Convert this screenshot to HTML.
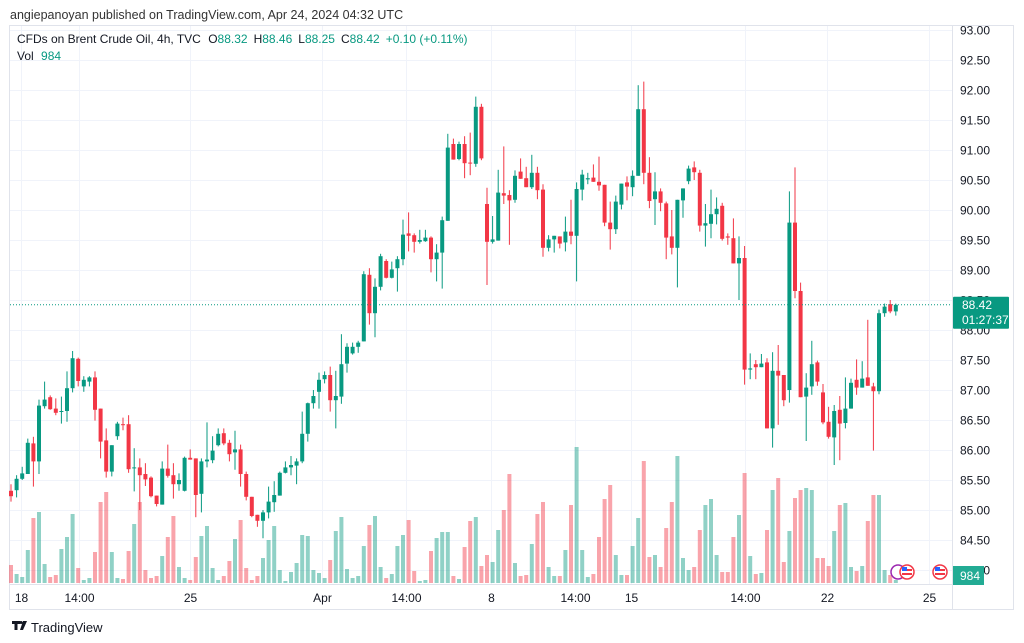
<!DOCTYPE html>
<html><head><meta charset="utf-8"><style>
html,body{margin:0;padding:0;background:#fff;width:1024px;height:643px;overflow:hidden;font-family:"Liberation Sans",sans-serif;}
svg text{font-family:"Liberation Sans",sans-serif;}
</style></head><body>
<svg id="chart" width="1024" height="643" viewBox="0 0 1024 643" xmlns="http://www.w3.org/2000/svg">
<text x="10" y="19" font-size="12.5" fill="#333">angiepanoyan published on TradingView.com, Apr 24, 2024 04:32 UTC</text>
<rect x="9.5" y="25.5" width="1004" height="584" fill="none" stroke="#e0e3eb"/>
<g id="grid"></g>
<line x1="952.5" y1="25" x2="952.5" y2="610" stroke="#e0e3eb"/>
<line x1="10" y1="584.5" x2="952" y2="584.5" stroke="#e0e3eb"/>
<g id="vols"></g>
<g id="candles"></g>
<g id="yaxis"></g>
<g id="xaxis"></g>
<g>
<text x="17" y="43" font-size="12" fill="#131722">CFDs on Brent Crude Oil, 4h, TVC <tspan dx="4">O</tspan><tspan fill="#089981">88.32</tspan><tspan dx="6">H</tspan><tspan fill="#089981">88.46</tspan><tspan dx="6">L</tspan><tspan fill="#089981">88.25</tspan><tspan dx="6">C</tspan><tspan fill="#089981">88.42</tspan><tspan dx="6" fill="#089981">+0.10 (+0.11%)</tspan></text>
<text x="17" y="60" font-size="12" fill="#131722">Vol <tspan dx="4" fill="#089981">984</tspan></text>
</g>
<g>
<path d="M12 621h8v3h-2.5v6h-3v-6h-2.5z M21 624a1.5 1.5 0 1 1 0.01 0 M23 621h4l-4 9h-3z" fill="#131722"/>
<text x="31" y="632" font-size="13" fill="#131722">TradingView</text>
</g>
</svg>
<script>
const opens=[85.32,85.33,85.52,85.60,86.11,85.81,86.73,86.88,86.69,86.64,86.65,87.03,87.52,87.06,87.14,87.21,86.69,86.16,85.64,86.23,86.43,86.43,85.70,85.71,85.60,85.54,85.24,
85.09,85.69,85.58,85.43,85.32,85.87,85.86,85.27,85.81,85.83,86.08,86.28,86.12,85.96,86.01,85.60,85.22,84.92,84.82,84.96,85.13,85.24,85.62,85.71,85.74,85.81,86.27,
86.78,86.97,87.18,87.25,86.83,86.89,87.44,87.61,87.72,87.81,88.92,88.28,88.72,89.15,88.87,89.03,89.18,89.61,89.58,89.47,89.48,89.54,89.18,89.29,89.82,91.10,
90.85,91.10,90.79,90.77,91.72,90.10,89.47,89.49,90.28,90.25,90.17,90.64,90.53,90.38,90.62,90.34,89.37,89.51,89.56,89.46,89.64,89.57,90.34,90.51,90.54,90.47,90.42,89.79,
89.68,90.09,90.46,90.38,90.57,91.68,90.62,90.18,90.31,90.11,89.56,89.37,90.16,90.48,90.71,90.62,89.74,89.77,89.93,90.07,89.56,89.53,89.11,89.20,87.34,87.43,87.38,87.46,
86.36,87.32,87.25,87.00,89.79,88.65,86.89,87.06,87.46,86.96,86.47,86.21,86.67,86.45,86.69,87.17,87.04,87.21,87.06,86.98,88.28,88.43,88.31];
const highs=[85.43,85.58,85.72,86.19,86.22,86.84,87.14,86.91,86.86,86.89,87.31,87.65,87.54,87.23,87.23,87.31,86.69,86.36,86.08,86.47,86.54,86.58,86.03,85.86,85.78,85.56,85.24,
85.81,86.09,85.78,85.61,85.89,86.01,85.86,85.86,86.46,86.23,86.36,86.36,86.17,86.32,86.09,85.64,85.22,84.92,85.00,85.39,85.48,85.64,85.81,85.90,85.86,86.64,86.79,
87.00,87.29,87.31,87.39,87.32,87.93,87.78,87.79,87.82,88.98,89.03,88.86,89.27,89.18,89.14,89.23,89.84,89.96,89.61,89.67,89.67,89.56,89.43,89.89,91.27,91.19,
91.14,91.23,91.29,91.89,91.77,90.37,89.90,90.67,91.06,90.33,90.66,90.86,90.72,90.92,90.72,90.43,89.58,89.57,89.56,89.89,90.17,90.46,90.67,90.62,90.76,90.89,90.42,90.14,
90.24,90.44,90.56,90.66,92.08,92.14,90.88,90.63,90.36,90.14,90.00,90.17,90.36,90.74,90.81,90.67,90.10,90.34,90.21,90.12,89.61,89.86,89.56,89.40,87.61,87.50,87.60,87.53,
87.63,87.75,87.25,90.31,90.71,88.79,87.28,87.82,87.49,87.10,86.72,86.75,86.90,87.21,87.19,87.51,87.48,88.17,87.12,88.34,88.44,88.50,88.44];
const lows=[85.14,85.21,85.50,85.60,85.39,85.60,86.69,86.67,86.58,86.44,86.47,86.96,87.06,86.97,87.06,86.49,85.86,85.54,85.56,86.17,86.33,85.62,85.31,85.00,85.40,85.21,85.06,
85.09,85.54,85.19,85.32,85.31,85.84,84.88,84.96,85.71,85.78,86.06,86.08,85.81,85.67,85.39,85.16,84.88,84.72,84.53,84.86,84.97,85.24,85.61,85.58,85.43,85.78,86.14,
86.69,86.69,87.11,86.64,86.36,86.77,87.29,87.59,87.62,87.81,88.09,87.88,88.66,88.86,88.86,88.64,89.08,89.31,89.29,89.44,89.47,88.96,88.81,88.69,89.82,90.84,
90.83,90.53,90.58,90.72,90.83,88.75,89.44,89.49,90.10,89.42,90.12,90.52,90.38,90.35,90.18,89.22,89.31,89.29,89.36,89.31,89.43,88.81,90.16,90.43,90.47,90.32,89.73,89.34,
89.60,90.01,90.16,90.23,90.57,90.43,90.03,89.75,89.98,89.18,89.26,88.71,89.87,90.43,90.50,89.64,89.39,89.53,89.76,89.49,89.42,89.11,88.50,87.09,87.18,87.18,87.38,86.36,
86.04,86.42,86.73,86.79,88.53,86.88,86.15,86.92,87.07,86.43,86.19,85.75,85.83,86.36,86.69,86.92,87.04,87.07,85.99,86.93,88.22,88.28,88.24];
const closes=[85.23,85.52,85.61,86.12,85.81,86.74,86.84,86.68,86.62,86.65,87.03,87.53,87.15,87.17,87.21,86.67,86.14,85.64,86.08,86.44,86.42,85.68,85.71,85.58,85.51,85.23,85.10,
85.69,85.57,85.43,85.50,85.87,85.84,85.25,85.81,85.84,85.99,86.27,86.11,85.93,86.01,85.60,85.22,84.90,84.82,84.96,85.14,85.25,85.62,85.71,85.75,85.81,86.27,86.78,
86.90,87.17,87.25,86.83,86.90,87.43,87.72,87.72,87.79,88.93,88.28,88.72,89.23,88.87,89.01,89.18,89.59,89.57,89.47,89.50,89.54,89.18,89.29,89.83,91.04,90.84,
91.10,90.78,90.78,91.72,90.86,89.47,89.51,90.29,90.24,90.16,90.57,90.52,90.38,90.62,90.33,89.37,89.51,89.57,89.44,89.64,89.57,90.35,90.59,90.53,90.47,90.41,89.79,89.68,
90.14,90.44,90.39,90.57,91.68,90.62,90.15,90.31,90.12,89.54,89.37,90.17,90.36,90.69,90.63,89.74,89.78,89.93,90.02,89.52,89.54,89.11,89.20,87.34,87.36,87.38,87.44,86.36,
87.32,87.24,86.83,89.79,88.65,86.88,87.04,87.43,87.14,86.46,86.22,86.65,86.44,86.69,87.12,87.04,87.19,87.07,86.98,88.28,88.39,88.31,88.42];
const volumes=[18,9,6,33,65,71,19,6,8,34,46,69,15,3,5,31,81,91,31,5,4,32,59,81,13,5,7,
27,46,67,16,5,3,26,47,57,15,3,7,22,44,63,15,3,7,25,43,57,13,2,11,20,48,47,
13,10,5,23,52,66,14,5,7,37,58,67,16,5,9,37,48,63,12,2,3,32,45,51,51,7,
4,36,62,66,17,28,21,53,73,109,20,7,8,39,69,81,16,7,7,33,78,136,33,6,9,46,84,98,
28,8,8,37,65,122,26,28,16,55,81,127,25,13,16,53,78,84,28,11,11,46,68,110,27,9,10,53,
93,105,21,52,85,93,95,93,25,25,17,52,78,80,16,12,17,62,88,88,13,8,3];
const priceTicks=["93.00","92.50","92.00","91.50","91.00","90.50","90.00","89.50","89.00","88.50","88.00","87.50","87.00","86.50","86.00","85.50","85.00","84.50","84.00"];
const timeLabels=["18","14:00","25","Apr","14:00","8","14:00","15","14:00","22","25"];
const timeIdx=[1.8,12.2,32,55.5,70.5,85.7,100.7,110.8,131,145.8,164];

const NS="http://www.w3.org/2000/svg";
const yP=p=>30+(93-p)*60;
const xI=i=>11+i*5.6;
const yV=v=>583-v;
function mk(tag,attrs,parent){const e=document.createElementNS(NS,tag);for(const k in attrs)e.setAttribute(k,attrs[k]);parent.appendChild(e);return e;}
const grid=document.getElementById('grid'),cg=document.getElementById('candles'),vg=document.getElementById('vols'),ya=document.getElementById('yaxis'),xa=document.getElementById('xaxis');
priceTicks.forEach(t=>{const y=Math.round(yP(parseFloat(t)))+0.5;
 const g=mk('line',{x1:10,x2:952,y1:y,y2:y,stroke:'#f0f3fa'},grid);
 
 
 const tx=mk('text',{x:960,y:y+4,'font-size':12,fill:'#131722'},ya);tx.textContent=t;
 
 
});
timeLabels.forEach((t,k)=>{const x=Math.round(xI(timeIdx[k]))+0.5;
 const g=mk('line',{x1:x,x2:x,y1:26,y2:584,stroke:'#f0f3fa'},grid);
 
 
 const tx=mk('text',{x:x,y:602,'font-size':12,fill:'#131722','text-anchor':'middle'},xa);tx.textContent=t;
 
 
});
volumes.forEach((v,i)=>{const up=closes[i]>=opens[i];const x=xI(i);
 const r=mk('rect',{x:x-2,y:yV(v),width:4,height:v,fill:up?'rgba(8,153,129,0.45)':'rgba(242,54,69,0.45)'},vg);
 
 
});
opens.forEach((o,i)=>{const c=closes[i],up=c>=o,col=up?'#089981':'#F23645',x=xI(i);
 const w=mk('line',{x1:x,x2:x,y1:yP(highs[i]),y2:yP(lows[i]),stroke:col,'stroke-width':1},cg);
 
 
 const top=yP(Math.max(o,c)),h=Math.max(1,yP(Math.min(o,c))-top);
 const b=mk('rect',{x:x-2,y:top,width:4,height:h,fill:col},cg);
 
 
});
const svg=document.getElementById('chart');
const last=closes[closes.length-1],ly=yP(last);
const pl=mk('line',{x1:10,x2:952,y1:ly,y2:ly,stroke:'#089981','stroke-dasharray':'1 2'},svg);


const tag=mk('rect',{x:953,y:ly-8,width:56,height:32,fill:'#089981',rx:1},svg);


const t1=mk('text',{x:962,y:ly+4,'font-size':12,fill:'#fff'},svg);t1.textContent=last.toFixed(2);


const t2=mk('text',{x:962,y:ly+19,'font-size':12,fill:'#fff'},svg);t2.textContent='01:27:37';


const vt=mk('rect',{x:953,y:566,width:31,height:19,fill:'#22ab94'},svg);


const vtt=mk('text',{x:960,y:580,'font-size':12,fill:'#fff'},svg);vtt.textContent='984';


[[898,'#9c27b0'],[907,'#F23645'],[940,'#F23645']].forEach(([x,c])=>{
 const ic=mk('circle',{cx:x,cy:572,r:7,fill:'#fff',stroke:c,'stroke-width':1.5},svg);
 
 
 if(c==='#F23645'){mk('rect',{x:x-5,y:569,width:10,height:2,fill:'#F23645'},svg);mk('rect',{x:x-5,y:573,width:10,height:2,fill:'#F23645'},svg);mk('rect',{x:x-5,y:567,width:5,height:4,fill:'#2962ff'},svg);}
});
</script>
</body></html>
